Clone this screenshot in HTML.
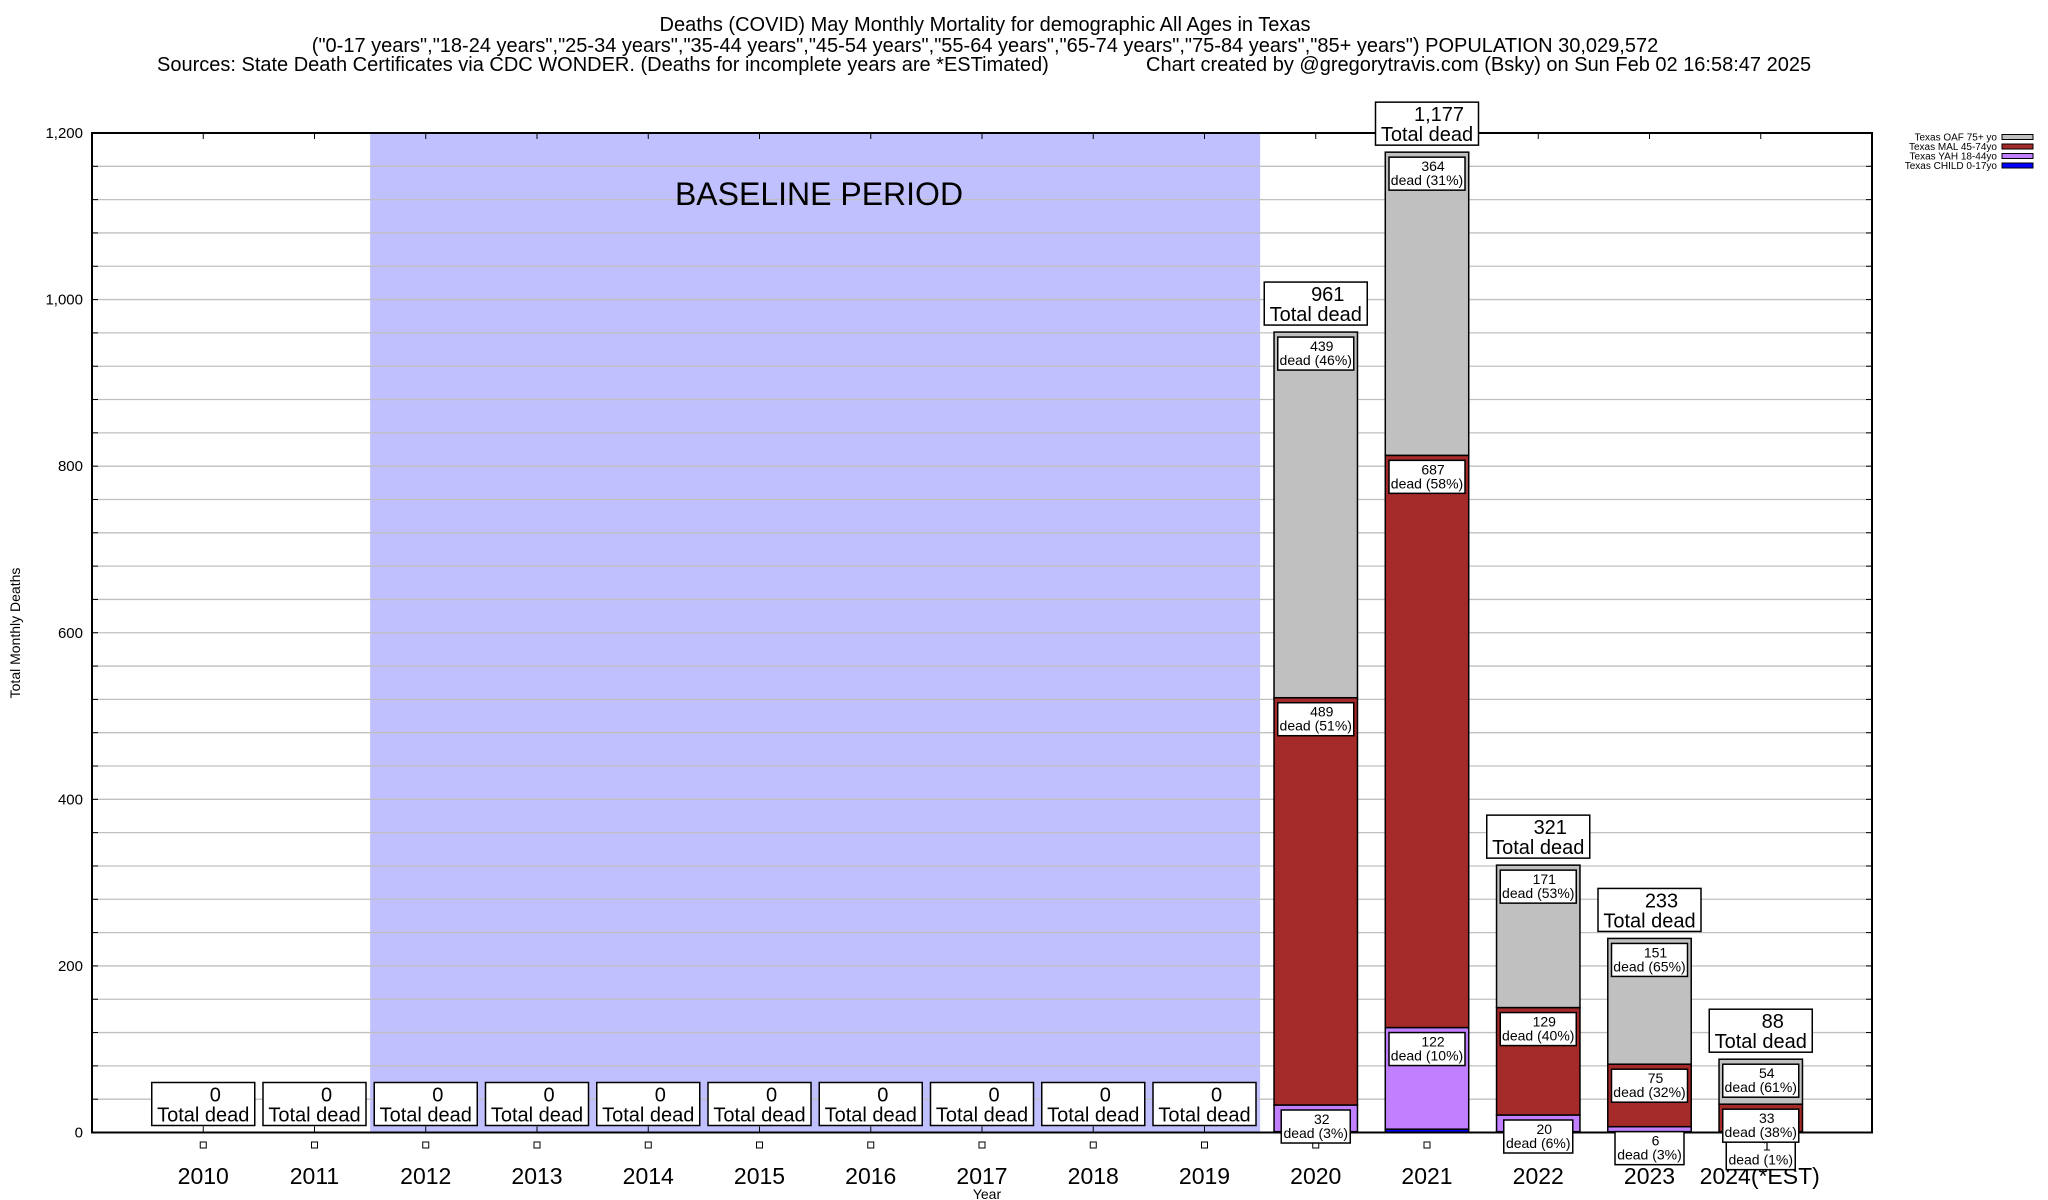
<!DOCTYPE html>
<html><head><meta charset="utf-8"><style>
html,body{margin:0;padding:0;background:#fff;}
svg{display:block;font-family:"Liberation Sans",Arial,sans-serif;}
</style></head><body>
<svg id="chart" width="2048" height="1200" viewBox="0 0 2048 1200" xmlns="http://www.w3.org/2000/svg">
<g font-size="20" fill="#000">
<text x="985" y="31" text-anchor="middle">Deaths (COVID) May Monthly Mortality for demographic All Ages in Texas</text>
<text x="985" y="52" text-anchor="middle">("0-17 years","18-24 years","25-34 years","35-44 years","45-54 years","55-64 years","65-74 years","75-84 years","85+ years") POPULATION 30,029,572</text>
<text x="157" y="71">Sources: State Death Certificates via CDC WONDER. (Deaths for incomplete years are *ESTimated)</text>
<text x="1146" y="71">Chart created by @gregorytravis.com (Bsky) on Sun Feb 02 16:58:47 2025</text>
</g>
<g id="plot"></g>
</svg>
<script>
const years = [2010,2011,2012,2013,2014,2015,2016,2017,2018,2019,2020,2021,2022,2023,2024];
const yearLabels = ["2010","2011","2012","2013","2014","2015","2016","2017","2018","2019","2020","2021","2022","2023","2024(*EST)"];
const child = [0,0,0,0,0,0,0,0,0,0,1,4,1,1,0];
const yah = [0,0,0,0,0,0,0,0,0,0,32,122,20,6,1];
const mal = [0,0,0,0,0,0,0,0,0,0,489,687,129,75,33];
const oaf = [0,0,0,0,0,0,0,0,0,0,439,364,171,151,54];
const yTicks = [0,200,400,600,800,1000,1200];
const yTickLabels = ["0","200","400","600","800","1,000","1,200"];
const baseline = [2011.5,2019.5];

const NS="http://www.w3.org/2000/svg";
const L=92,R=1872,T=133,B=1132.5;
const X0=2009,X1=2025,YMAX=1200;
const xs=v=>L+(v-X0)/(X1-X0)*(R-L);
const ys=v=>B-v/YMAX*(B-T);
const plot=document.getElementById('plot');
function el(tag,attrs,parent,text){const e=document.createElementNS(NS,tag);for(const k in attrs)e.setAttribute(k,attrs[k]);if(text!==undefined)e.textContent=text;(parent||plot).appendChild(e);return e;}

let bs=el('rect',{x:xs(baseline[0]),y:T,width:xs(baseline[1])-xs(baseline[0]),height:B-T,fill:'#c0c0ff'});


for(let v=40;v<YMAX;v+=40){
  let g=el('line',{x1:L,x2:R,y1:ys(v),y2:ys(v),stroke:'#c0c0c0','stroke-width':1.3});
  
  
  let t1=el('line',{x1:L,x2:L+6,y1:ys(v),y2:ys(v),stroke:'#000'});
  
  
  let t2=el('line',{x1:R-6,x2:R,y1:ys(v),y2:ys(v),stroke:'#000'});
  
  
}
let bt=el('text',{x:819,y:205,'font-size':32,'text-anchor':'middle'},plot,'BASELINE PERIOD');



yTicks.forEach((v,i)=>{
  let t=el('text',{x:83,y:ys(v)+5,'font-size':15,'text-anchor':'end'},plot,yTickLabels[i]);
  
  
});
years.forEach((yr,i)=>{
  const cx=xs(yr);
  let a=el('line',{x1:cx,x2:cx,y1:T,y2:T+6,stroke:'#000'});
  
  
  let b=el('line',{x1:cx,x2:cx,y1:B-6,y2:B,stroke:'#000'});
  
  
  let t=el('text',{x:yr===2024?cx-1:cx,y:1184,'font-size':23,'text-anchor':'middle'},plot,yearLabels[i]);
  
  
});

const series=[{d:child,c:'#0000ff',n:'child'},{d:yah,c:'#c080ff',n:'yah'},{d:mal,c:'#a52a2a',n:'mal'},{d:oaf,c:'#c0c0c0',n:'oaf'}];
const bw=0.75;
const labels=el('g',{});
years.forEach((yr,i)=>{
  const total=child[i]+yah[i]+mal[i]+oaf[i];
  const x0=xs(yr-bw/2),w=xs(yr+bw/2)-x0;
  let cum=0;
  series.forEach((s,si)=>{
    const v=s.d[i];
    if(v>0){
      let r=el('rect',{x:x0,y:ys(cum+v),width:w,height:ys(cum)-ys(cum+v),fill:s.c,stroke:'#000','stroke-width':1.5});
      
      
      if(si>0){
        const pct=Math.round(v/total*100);
        const line2='dead ('+pct+'%)';
        const bwid=line2.length*7+6, top=ys(cum+v)+5;
        const g=el('g',{},labels);
        
        
        el('rect',{x:xs(yr)-bwid/2,y:top,width:bwid,height:33,fill:'#fff',stroke:'#000','stroke-width':1.5},g);
        el('text',{x:xs(yr)+6,y:top+14,'font-size':14,'text-anchor':'middle'},g,String(v));
        el('text',{x:xs(yr),y:top+28,'font-size':14,'text-anchor':'middle'},g,line2);
      }
    }
    cum+=v;
  });
  let sq=el('rect',{x:xs(yr)-3,y:1142,width:6,height:6,fill:'#fff',stroke:'#000','stroke-width':1});
  
  
  const g=el('g',{},labels);
  
  
  const bb=ys(total)-7;
  el('rect',{x:xs(yr)-51.5,y:bb-43,width:103,height:43,fill:'#fff',stroke:'#000','stroke-width':1.5},g);
  el('text',{x:xs(yr)+12,y:bb-24,'font-size':20,'text-anchor':'middle'},g,total.toLocaleString('en-US'));
  el('text',{x:xs(yr),y:bb-4,'font-size':20,'text-anchor':'middle'},g,'Total dead');
});
let fr=el('rect',{x:L,y:T,width:R-L,height:B-T,fill:'none',stroke:'#000','stroke-width':2});


plot.appendChild(labels);
let yt=el('text',{x:0,y:0,'font-size':14,'text-anchor':'middle',transform:'translate(20,633) rotate(-90)'},plot,'Total Monthly Deaths');


let xt=el('text',{x:987,y:1199,'font-size':14,'text-anchor':'middle'},plot,'Year');



const legNames=['Texas OAF 75+ yo','Texas MAL 45-74yo','Texas YAH 18-44yo','Texas CHILD 0-17yo'];
const legColors=['#c0c0c0','#a52a2a','#c080ff','#0000ff'];
legNames.forEach((n,i)=>{
  const y=137+i*9.5;
  const g=el('g',{});
  
  
  el('text',{x:1997,y:y+3.5,'font-size':10,'text-anchor':'end'},g,n);
  el('rect',{x:2002,y:y-2.5,width:31,height:5,fill:legColors[i],stroke:'#000','stroke-width':1},g);
});
</script>
</body></html>
